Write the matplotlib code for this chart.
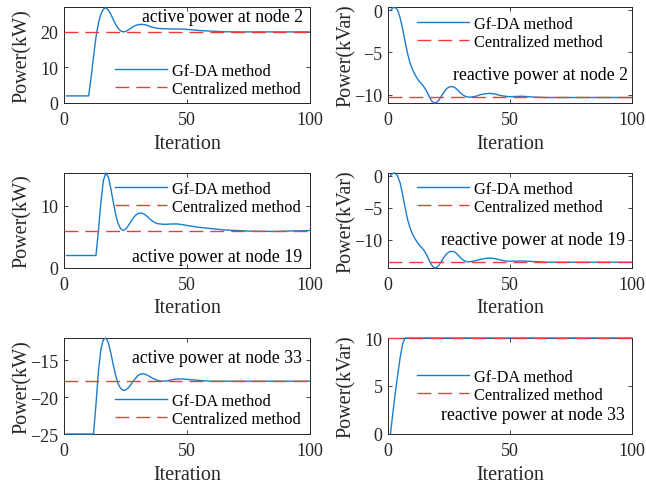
import matplotlib.pyplot as plt

plt.rcParams['font.family'] = ['Liberation Serif', 'DejaVu Serif']

# Gf-DA iterations (denser where the curves move)
it_p2 = [1, 10, 11, 12, 13, 14, 15, 16, 17, 18, 19, 20, 21, 22, 23, 24, 25, 26, 27, 28, 29, 30,
         31, 32, 33, 34, 35, 36, 38, 40, 45, 48, 50, 55, 60, 65, 70, 100]
p2 = [2, 2, 7, 13, 18.5, 22.5, 25, 26.4, 26.8, 26.2, 25, 23.5, 22.1, 21.0, 20.3, 20.0, 20.1, 20.5,
      20.9, 21.4, 21.8, 22.0, 22.1, 22.1, 22.0, 21.8, 21.5, 21.3, 21.0, 20.9, 20.8, 20.8, 20.7,
      20.4, 20.2, 20.05, 20.0, 20.0]

it_q2 = [1, 2, 3, 4, 5, 6, 7, 8, 9, 10, 11, 12, 13, 14, 15, 16, 17, 18, 19, 20, 21, 22, 23, 24,
         25, 26, 27, 28, 29, 30, 31, 32, 33, 34, 36, 38, 40, 42, 44, 46, 48, 50, 55, 60, 65, 70, 100]
q2 = [0, 0.3, 0.35, 0, -0.9, -2.2, -3.7, -5.1, -6.2, -7.0, -7.6, -8.1, -8.5, -8.8, -9.2, -9.7,
      -10.3, -10.8, -11.0, -10.9, -10.6, -10.1, -9.7, -9.3, -9.1, -9.05, -9.1, -9.3, -9.6, -9.9,
      -10.1, -10.25, -10.3, -10.3, -10.2, -10.0, -9.9, -9.85, -9.95, -10.1, -10.2, -10.25, -10.2,
      -10.3, -10.35, -10.35, -10.35]

it_p19 = [1, 13, 14, 15, 16, 17, 18, 19, 20, 21, 22, 23, 24, 25, 26, 27, 28, 29, 30, 31, 32, 33,
          34, 35, 36, 37, 38, 40, 42, 44, 46, 48, 50, 55, 60, 65, 70, 75, 85, 95, 100]
p19 = [2, 2, 6, 10.5, 14, 15.2, 14.6, 12.8, 10.6, 8.6, 7.1, 6.3, 6.0, 6.2, 6.7, 7.3, 7.9, 8.4,
       8.7, 8.8, 8.75, 8.5, 8.2, 7.8, 7.5, 7.25, 7.1, 7.0, 7.0, 7.05, 7.05, 6.95, 6.8, 6.5, 6.3,
       6.1, 6.0, 5.9, 5.85, 5.95, 6.0]

it_q19 = it_q2
q19 = [0, 0.35, 0.4, -0.1, -1.2, -3.0, -5.0, -6.8, -8.1, -9.1, -9.8, -10.4, -10.9, -11.3, -11.8,
       -12.5, -13.3, -14.0, -14.4, -14.3, -13.9, -13.3, -12.7, -12.2, -11.9, -11.8, -11.85, -12.1,
       -12.5, -12.9, -13.2, -13.4, -13.45, -13.4, -13.25, -13.05, -12.9, -12.85, -12.95, -13.15,
       -13.3, -13.35, -13.3, -13.4, -13.5, -13.5, -13.5]

it_p33 = [1, 12, 13, 14, 15, 16, 17, 18, 19, 20, 21, 22, 23, 24, 25, 26, 27, 28, 29, 30, 31, 32,
          33, 34, 35, 36, 37, 38, 40, 42, 44, 46, 48, 50, 55, 60, 65, 100]
p33 = [-25, -25, -21, -16.5, -13.5, -12.2, -12.0, -12.6, -14.0, -15.6, -17.1, -18.2, -18.8, -19.1,
       -19.05, -18.8, -18.4, -17.9, -17.5, -17.1, -16.9, -16.85, -16.9, -17.05, -17.25, -17.45,
       -17.6, -17.75, -17.85, -17.8, -17.65, -17.55, -17.55, -17.6, -17.75, -17.85, -17.85, -17.85]

it_q33 = [1, 2, 3, 4, 5, 6, 7, 100]
q33 = [0, 2.2, 4.3, 6.2, 8.0, 9.4, 10, 10]

# centralized solutions
cen = [20, -10.3, 6, -13.5, -17.8, 10]

titles = ["active power at node 2", "reactive power at node 2",
          "active power at node 19", "reactive power at node 19",
          "active power at node 33", "reactive power at node 33"]
ylabels = ["Power(kW)", "Power(kVar)"] * 3
ylims = [(0, 27), (-11, 0.4), (0, 15.2), (-14.4, 0.4), (-25, -12), (0, 10)]
yticks = [[0, 10, 20], [-10, -5, 0], [0, 10], [-10, -5, 0], [-25, -20, -15], [0, 5, 10]]
curves = [(it_p2, p2), (it_q2, q2), (it_p19, p19), (it_q19, q19), (it_p33, p33), (it_q33, q33)]

# layout in pixels (fig 646x489)
W, H = 646, 489
col_x = [(64, 310), (388, 632)]
row_y = [(8, 104), (174, 269), (339, 435)]
leg_pos = [(115, 81), (417, 34), (115, 199), (417, 199), (115, 411), (417, 387)]
txt_pos = [(0.972, 0.896), (0.984, 0.30), (0.967, 0.116), (0.971, 0.305), (0.967, 0.80), (0.971, 0.198)]

blue = '#1a7ccc'
red = '#f23a3a'
axcol = '#262626'

fig = plt.figure(figsize=(W / 100, H / 100), dpi=100)

for k in range(6):
    r, c = divmod(k, 2)
    x0, x1 = col_x[c]
    y0, y1 = row_y[r]
    ax = fig.add_axes([x0 / W, 1 - y1 / H, (x1 - x0) / W, (y1 - y0) / H])
    xs, ys = curves[k]
    ax.plot(xs, ys, color=blue, lw=1.0, label="Gf-DA method", clip_on=False, zorder=3)
    ax.axhline(cen[k], color=red, lw=1.0, dashes=(10, 5), label="Centralized method",
               clip_on=False, zorder=4)
    ax.set_xlim(0, 100)
    ax.set_ylim(*ylims[k])
    ax.set_xticks([0, 50, 100])
    ax.set_yticks(yticks[k])
    ax.tick_params(direction='in', length=3, width=0.6, top=True, right=True,
                   labelsize=13, colors=axcol)
    ax.tick_params(axis='x', pad=6)
    ax.tick_params(axis='y', pad=4)
    for s in ax.spines.values():
        s.set_color(axcol)
        s.set_linewidth(0.7)
    ax.set_xlabel("Iteration", fontsize=14.5, color=axcol)
    ax.set_ylabel(ylabels[k], fontsize=14.5, color=axcol)
    ax.xaxis.set_label_coords(0.5, -0.32)
    ax.yaxis.set_label_coords(-0.13, 0.5)
    ax.text(txt_pos[k][0], txt_pos[k][1], titles[k], transform=ax.transAxes,
            ha='right', va='center', fontsize=12.8)
    lx, ly = leg_pos[k]
    ax.legend(loc='center left', bbox_to_anchor=(lx / W, 1 - ly / H),
              bbox_transform=fig.transFigure, frameon=False, fontsize=11.8,
              borderpad=0, borderaxespad=0, handlelength=3.2, handletextpad=0.3,
              labelspacing=0.15)

fig.savefig("out.png", dpi=100)
